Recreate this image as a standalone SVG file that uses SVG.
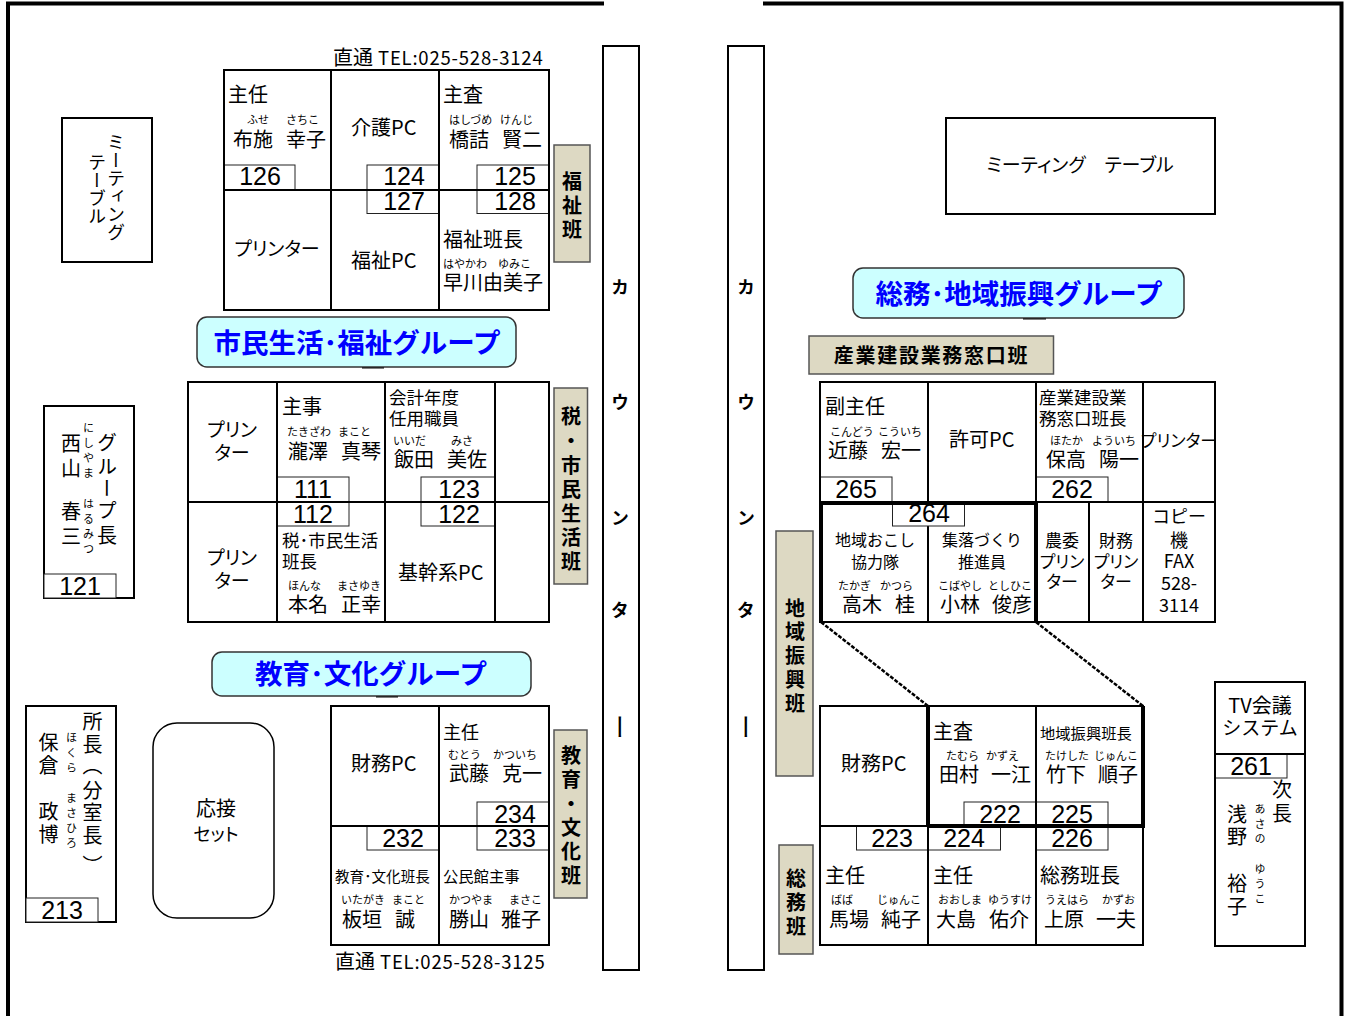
<svg xmlns="http://www.w3.org/2000/svg" width="1348" height="1016" viewBox="0 0 1348 1016">
<style>
text{font-family:"Noto Sans CJK JP","Noto Sans",sans-serif;fill:#000;font-size:20px}
.c{fill:none;stroke:#000;stroke-width:2}
.nb{fill:#fff;stroke:#222;stroke-width:1}
.num{font-family:"Liberation Sans",sans-serif;font-size:25px;text-anchor:middle}
.f{font-size:11px}
.m{text-anchor:middle}
.s19{font-size:19px}
.s18{font-size:18px}
.s175{font-size:17.500px}
.s17{font-size:17px}
.s16{font-size:16px}
.s15{font-size:15.300px}
.s145{font-size:14.600px}
.tel{font-size:18.500px;letter-spacing:.8px}
.p{font-feature-settings:"palt"}
.v{writing-mode:vertical-rl;text-orientation:upright}
.b{font-weight:700}
.lab{fill:#ddd9c3;stroke:#555;stroke-width:1.500}
.grp{fill:#ccffff;stroke:#333;stroke-width:1.500}
.gt{font-size:27.500px;font-weight:700;fill:#0000ff;text-anchor:middle}
.wall{fill:none;stroke:#000;stroke-width:4}
.th{fill:none;stroke:#000;stroke-width:4}
.dash{fill:none;stroke:#000;stroke-width:2.500;stroke-dasharray:4 1.500}
.mark{stroke:#000;stroke-width:2}
</style>
<g id="walls">
<path class="wall" d="M8 1016V3.500H604"/>
<path class="wall" d="M763 3.500H1341.500V1016"/>
</g>
<g id="counter-left"><rect class="c" x="603" y="46" width="36" height="924"/><text class="v b s18" x="620" y="278 393 509 601">カウンタ<tspan x="620" y="714" font-size="26" font-weight="400">ー</tspan></text></g>
<g id="counter-right"><rect class="c" x="728" y="46" width="36" height="924"/><text class="v b s18" x="746" y="278 393 509 601">カウンタ<tspan x="746" y="714" font-size="26" font-weight="400">ー</tspan></text></g>
<g id="meeting-left"><rect class="c" x="62" y="118" width="90" height="144"/><text class="v s18 p" x="116" y="133">ミーティング</text><text class="v s18 p" x="97" y="153">テーブル</text></g>
<g id="meeting-right"><rect class="c" x="946" y="118" width="269" height="96"/><text class="s19 p m" x="1080" y="172">ミーティング　テーブル</text></g>
<text x="333" y="65" id="tel-1">直通<tspan class="tel" dx="5">TEL:025-528-3124</tspan></text>

<g id="d126"><rect class="nb" x="224" y="165" width="71" height="25"/><text class="num" x="260" y="185">126</text><rect class="c" x="224" y="70" width="107" height="120"/>
<text x="228" y="102">主任</text><text class="f" y="124"><tspan x="247">ふせ </tspan><tspan x="286">さちこ</tspan></text><text y="147"><tspan x="233">布施 </tspan><tspan x="286">幸子</tspan></text></g>
<g id="d124"><rect class="nb" x="367" y="165" width="72" height="25"/><text class="num" x="404" y="185">124</text><rect class="c" x="331" y="70" width="108" height="120"/><text x="351" y="135">介護PC</text></g>
<g id="d125"><rect class="nb" x="477" y="165" width="72" height="25"/><text class="num" x="515" y="185">125</text><rect class="c" x="439" y="70" width="110" height="120"/>
<text x="443" y="102">主査</text><text class="f" y="124"><tspan x="449">はしづめ </tspan><tspan x="500">けんじ</tspan></text><text y="147"><tspan x="449">橋詰 </tspan><tspan x="502">賢二</tspan></text></g>
<g id="d-printer1"><rect class="c" x="224" y="190" width="107" height="120"/><text class="p m s19" x="277" y="256">プリンター</text></g>
<g id="d127"><rect class="nb" x="367" y="190" width="72" height="23.500"/><text class="num" x="404" y="210">127</text><rect class="c" x="331" y="190" width="108" height="120"/><text x="351" y="268">福祉PC</text></g>
<g id="d128"><rect class="nb" x="477" y="190" width="72" height="23.500"/><text class="num" x="515" y="210">128</text><rect class="c" x="439" y="190" width="110" height="120"/>
<text x="443" y="247">福祉班長</text><text class="f" y="268"><tspan x="443">はやかわ </tspan><tspan x="498">ゆみこ</tspan></text><text x="443" y="290">早川由美子</text></g>
<g id="lab-fukushi"><rect class="lab" x="554" y="145" width="36" height="117"/><text class="v b" x="572" y="171 195 219">福祉班</text></g>
<g id="grp-shimin"><line class="mark" x1="362" y1="367.500" x2="384" y2="367.500"/><rect class="grp" x="197" y="317" width="319" height="50" rx="10"/><text class="gt" x="357" y="353">市民生活･福祉グループ</text></g>

<g id="d-printer2"><rect class="c" x="188" y="382" width="89" height="120"/><text class="p m s19" x="232" y="437">プリン</text><text class="p m s19" x="232" y="460">ター</text></g>
<g id="d111"><rect class="nb" x="277" y="477" width="72" height="25"/><text class="num" x="313" y="498">111</text><rect class="c" x="277" y="382" width="108" height="120"/>
<text x="282" y="414">主事</text><text class="f" y="436"><tspan x="287">たきざわ </tspan><tspan x="338">まこと</tspan></text><text y="459"><tspan x="288">瀧澤 </tspan><tspan x="341">真琴</tspan></text></g>
<g id="d123"><rect class="nb" x="421" y="477" width="74" height="25"/><text class="num" x="459" y="498">123</text><rect class="c" x="385" y="382" width="110" height="120"/>
<text class="s175" x="389" y="404">会計年度</text><text class="s175" x="389" y="425">任用職員</text><text class="f" y="445"><tspan x="393">いいだ </tspan><tspan x="451">みさ</tspan></text><text y="467"><tspan x="394">飯田 </tspan><tspan x="447">美佐</tspan></text></g>
<g id="d-empty1"><rect class="c" x="495" y="382" width="54" height="120"/></g>
<g id="d-printer3"><rect class="c" x="188" y="502" width="89" height="120"/><text class="p m s19" x="232" y="565">プリン</text><text class="p m s19" x="232" y="588">ター</text></g>
<g id="d112"><rect class="nb" x="277" y="502" width="72" height="24"/><text class="num" x="313" y="522.500">112</text><rect class="c" x="277" y="502" width="108" height="120"/>
<text class="s175" x="282" y="547">税･市民生活</text><text class="s175" x="282" y="568">班長</text><text class="f" y="590"><tspan x="288">ほんな </tspan><tspan x="337">まさゆき</tspan></text><text y="612"><tspan x="288">本名 </tspan><tspan x="341">正幸</tspan></text></g>
<g id="d122"><rect class="nb" x="421" y="502" width="74" height="24"/><text class="num" x="459" y="522.500">122</text><rect class="c" x="385" y="502" width="110" height="120"/><text x="398" y="580">基幹系PC</text></g>
<g id="d-empty2"><rect class="c" x="495" y="502" width="54" height="120"/></g>
<g id="lab-zei"><rect class="lab" x="554" y="388" width="33.500" height="196"/><text class="v b" x="571" y="406 430 455 479 503 527 551">税・市民生活班</text></g>
<g id="d121"><rect class="c" x="44" y="406" width="90" height="192"/><rect class="nb" x="44" y="574" width="72" height="24"/><text class="num" x="80" y="595">121</text>
<text class="v" x="107" y="432 456 478 500 525">グループ長</text><text class="v" x="71" y="433 458 501 526">西山春三</text><text class="v f" x="88.500" y="422 437 452 467">にしやま</text><text class="v f" x="88.500" y="498 513 528 543">はるみつ</text></g>

<g id="grp-kyoiku"><line class="mark" x1="376" y1="696.500" x2="398" y2="696.500"/><rect class="grp" x="212" y="652" width="319" height="44" rx="10"/><text class="gt" x="371" y="684">教育･文化グループ</text></g>
<g id="d213"><rect class="c" x="26" y="706" width="90" height="216"/><rect class="nb" x="26" y="898" width="72" height="24"/><text class="num" x="62" y="919">213</text>
<text class="v" x="92.500" y="711 734 755 780 802 825 855">所長（分室長）</text><text class="v" x="48.500" y="732 755 801 824">保倉政博</text><text class="v f" x="71.500" y="732 747 762">ほくら</text><text class="v f" x="71.500" y="792 807 822 837">まさひろ</text></g>
<g id="sofa"><rect class="c" style="stroke-width:1.500" x="153" y="723" width="121" height="195" rx="24"/><text class="m" x="216" y="816">応接</text><text class="m s18 p" x="216" y="841">セット</text></g>
<g id="d-zaimu1"><rect class="c" x="331" y="706" width="108" height="120"/><text x="351" y="771">財務PC</text></g>
<g id="d234"><rect class="nb" x="477" y="802" width="72" height="24"/><text class="num" x="515" y="823">234</text><rect class="c" x="439" y="706" width="110" height="120"/>
<text class="s18" x="443" y="739">主任</text><text class="f" y="759"><tspan x="448">むとう </tspan><tspan x="493">かついち</tspan></text><text y="781"><tspan x="449">武藤 </tspan><tspan x="502">克一</tspan></text></g>
<g id="d232"><rect class="nb" x="367" y="826" width="72" height="24"/><text class="num" x="403" y="847">232</text><rect class="c" x="331" y="826" width="108" height="119"/>
<text class="s145" x="335" y="882">教育･文化班長</text><text class="f" y="904"><tspan x="341">いたがき </tspan><tspan x="392">まこと</tspan></text><text y="927"><tspan x="342">板垣 </tspan><tspan x="395">誠</tspan></text></g>
<g id="d233"><rect class="nb" x="477" y="826" width="72" height="24"/><text class="num" x="515" y="847">233</text><rect class="c" x="439" y="826" width="110" height="119"/>
<text class="s15" x="443" y="882">公民館主事</text><text class="f" y="904"><tspan x="449">かつやま </tspan><tspan x="509">まさこ</tspan></text><text y="927"><tspan x="449">勝山 </tspan><tspan x="501">雅子</tspan></text></g>
<g id="lab-kyoiku"><rect class="lab" x="554" y="730" width="33" height="168"/><text class="v b" x="571" y="745 769 793 817 841 865">教育・文化班</text></g>
<text x="335" y="969" id="tel-2">直通<tspan class="tel" dx="5">TEL:025-528-3125</tspan></text>

<g id="grp-somu"><line class="mark" x1="1023" y1="318.500" x2="1046" y2="318.500"/><rect class="grp" x="853" y="268" width="331" height="50" rx="10"/><text class="gt" x="1019" y="304">総務･地域振興グループ</text></g>
<g id="lab-sangyo"><rect class="lab" x="809" y="336" width="244.500" height="38"/><text class="b m" x="931.500" y="363" style="letter-spacing:1.700px">産業建設業務窓口班</text></g>
<g id="d265"><rect class="nb" x="820" y="477" width="72" height="25"/><text class="num" x="856" y="498">265</text><rect class="c" x="820" y="382" width="108" height="120"/>
<text x="825" y="414">副主任</text><text class="f" y="436"><tspan x="830">こんどう </tspan><tspan x="878">こういち</tspan></text><text y="458"><tspan x="828">近藤 </tspan><tspan x="881">宏一</tspan></text></g>
<g id="d-kyoka"><rect class="c" x="928" y="382" width="108" height="120"/><text x="949" y="447">許可PC</text></g>
<g id="d262"><rect class="nb" x="1036" y="477" width="72" height="25"/><text class="num" x="1072" y="498">262</text><rect class="c" x="1036" y="382" width="107" height="120"/>
<text class="s175" x="1039" y="404">産業建設業</text><text class="s175" x="1039" y="425">務窓口班長</text><text class="f" y="445"><tspan x="1050">ほたか </tspan><tspan x="1092">よういち</tspan></text><text y="467"><tspan x="1046">保高 </tspan><tspan x="1099">陽一</tspan></text></g>
<g id="d-printer4"><rect class="c" x="1143" y="382" width="72" height="120"/><text class="p m s17" x="1179" y="447">プリンター</text></g>
<g id="d-okoshi"><rect class="c" x="820" y="502" width="108" height="120"/><text class="s16 m" x="875" y="546">地域おこし</text><text class="s16 m" x="875" y="568">協力隊</text><text class="f" y="590"><tspan x="838">たかぎ </tspan><tspan x="880">かつら</tspan></text><text y="612"><tspan x="842">高木 </tspan><tspan x="895">桂</tspan></text></g>
<g id="d-shuraku"><rect class="c" x="928" y="502" width="108" height="120"/><text class="s16 m" x="982" y="546">集落づくり</text><text class="s16 m" x="982" y="568">推進員</text><text class="f" y="590"><tspan x="938">こばやし </tspan><tspan x="988">としひこ</tspan></text><text y="612"><tspan x="940">小林 </tspan><tspan x="992">俊彦</tspan></text></g>
<g id="d264"><rect class="nb" x="892.500" y="502" width="72" height="24"/><text class="num" x="929" y="522">264</text></g>
<g id="d-nouiprinter"><rect class="c" x="1036" y="502" width="53" height="120"/><text class="s17 m" x="1062" y="547">農委</text><text class="s17 m p" x="1062" y="568">プリン</text><text class="s17 m p" x="1062" y="588">ター</text></g>
<g id="d-zaimuprinter"><rect class="c" x="1089" y="502" width="54" height="120"/><text class="s17 m" x="1116" y="547">財務</text><text class="s17 m p" x="1116" y="568">プリン</text><text class="s17 m p" x="1116" y="588">ター</text></g>
<g id="d-copy"><rect class="c" x="1143" y="502" width="72" height="120"/><text class="s18 m" x="1179" y="523">コピー</text><text class="s18 m" x="1179" y="547">機</text><text class="s18 m" x="1179" y="568">FAX</text><text class="s18 m" x="1179" y="590">528-</text><text class="s18 m" x="1179" y="612">3114</text></g>
<g id="lab-chiiki"><rect class="lab" x="776" y="531" width="37" height="245"/><text class="v b" x="795" y="598 621 645 669 693">地域振興班</text></g>
<g id="lab-somu"><rect class="lab" x="779" y="845" width="34" height="109"/><text class="v b" x="796" y="868 892 916">総務班</text></g>

<g id="connectors"><path class="dash" d="M821 622L928 706"/><path class="dash" d="M1036 622L1143 706"/></g>

<g id="d-zaimu2"><rect class="c" x="820" y="706" width="108" height="120"/><text x="841" y="771">財務PC</text></g>
<g id="d222"><rect class="nb" x="964" y="802" width="72" height="24"/><text class="num" x="1000" y="823">222</text><rect class="c" x="928" y="706" width="108" height="120"/>
<text x="933" y="739">主査</text><text class="f" y="760"><tspan x="946">たむら </tspan><tspan x="986">かずえ</tspan></text><text y="782"><tspan x="939">田村 </tspan><tspan x="991">一江</tspan></text></g>
<g id="d225"><rect class="nb" x="1036" y="802" width="72" height="24"/><text class="num" x="1072" y="823">225</text><rect class="c" x="1036" y="706" width="107" height="120"/>
<text class="s15" x="1040" y="738.500">地域振興班長</text><text class="f" y="760"><tspan x="1045">たけした </tspan><tspan x="1094">じゅんこ</tspan></text><text y="782"><tspan x="1046">竹下 </tspan><tspan x="1098">順子</tspan></text></g>
<g id="d223"><rect class="nb" x="856.500" y="826" width="71.500" height="24"/><text class="num" x="892" y="847">223</text><rect class="c" x="820" y="826" width="108" height="119"/>
<text x="825" y="883">主任</text><text class="f" y="904"><tspan x="831">ばば </tspan><tspan x="877">じゅんこ</tspan></text><text y="927"><tspan x="829">馬場 </tspan><tspan x="881">純子</tspan></text></g>
<g id="d224"><rect class="nb" x="928" y="826" width="72.500" height="24"/><text class="num" x="964" y="847">224</text><rect class="c" x="928" y="826" width="108" height="119"/>
<text x="933" y="883">主任</text><text class="f" y="904"><tspan x="938">おおしま </tspan><tspan x="988">ゆうすけ</tspan></text><text y="927"><tspan x="936">大島 </tspan><tspan x="989">佑介</tspan></text></g>
<g id="d226"><rect class="nb" x="1036" y="826" width="72" height="24"/><text class="num" x="1072" y="847">226</text><rect class="c" x="1036" y="826" width="107" height="119"/>
<text x="1040" y="883">総務班長</text><text class="f" y="904"><tspan x="1045">うえはら </tspan><tspan x="1102">かずお</tspan></text><text y="927"><tspan x="1044">上原 </tspan><tspan x="1096">一夫</tspan></text></g>

<g id="tv"><rect class="c" x="1215" y="682" width="90" height="72"/><text class="m" x="1260" y="713">TV会議</text><text class="s19 m" x="1260" y="735">システム</text></g>
<g id="d261"><rect class="nb" x="1215" y="754" width="72" height="24"/><text class="num" x="1251" y="775">261</text><rect class="c" x="1215" y="754" width="90" height="192"/>
<text class="v" x="1282" y="779 803">次長</text><text class="v" x="1237" y="804 826 873 896">浅野裕子</text><text class="v f" x="1260" y="803 818 833">あさの</text><text class="v f" x="1260" y="863 878 893">ゆうこ</text></g>

<g id="highlights">
<path class="th" d="M821 622V503H1036V622"/>
<path class="th" d="M928 706V826M1143 706V826M928 826H1145"/>
</g>
</svg>
